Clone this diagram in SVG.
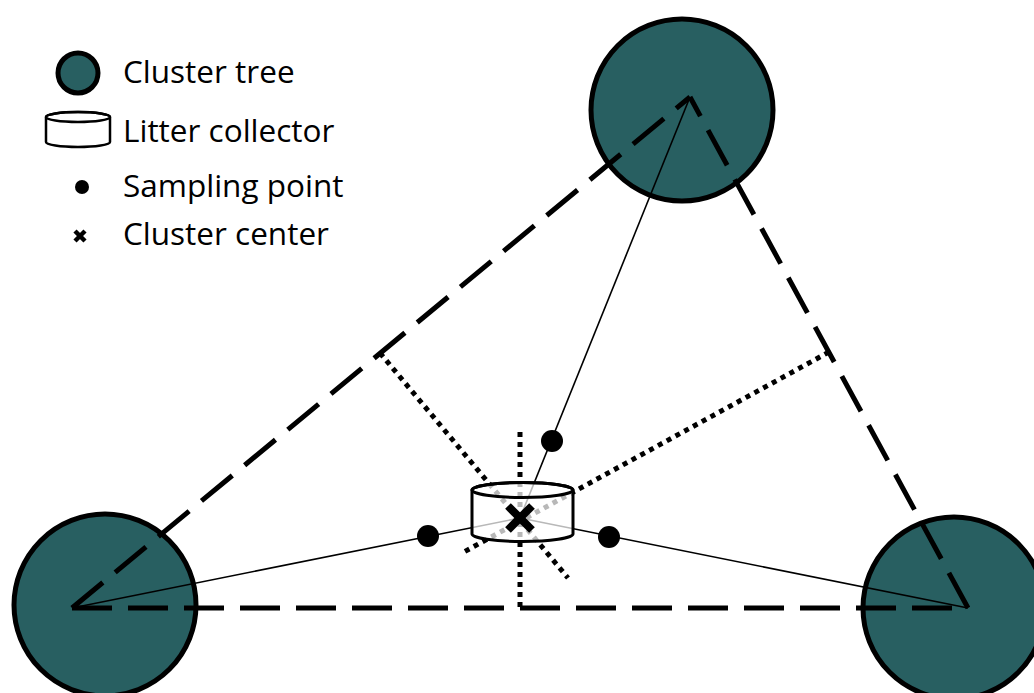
<svg xmlns="http://www.w3.org/2000/svg" width="1034" height="693" viewBox="0 0 1034 693">
<style>
.tree{fill:#285f61;stroke:#000;stroke-width:5}
.dash{stroke:#000;stroke-width:5;stroke-dasharray:40 16;fill:none}
.thin{stroke:#000;stroke-width:1.6;fill:none}
.dot{stroke:#000;stroke-width:5;stroke-dasharray:5 5;fill:none}
.pt{fill:#000}
.cyl{fill:#fff;fill-opacity:0.72;stroke:#000;stroke-width:3}
.x{stroke:#000;stroke-width:8;stroke-linecap:butt}
.lbl{font-family:"Open Sans","Noto Sans",sans-serif;font-size:31.5px;fill:#000}
</style>
<rect width="1034" height="693" fill="#fff"/>
<g id="tree-top"><circle class="tree" cx="682" cy="110" r="91"/></g>
<g id="tree-left"><circle class="tree" cx="105" cy="605" r="91"/></g>
<g id="tree-right"><circle class="tree" cx="954" cy="608" r="91"/></g>
<g id="connectors">
<line class="dash" x1="72" y1="608" x2="968" y2="608"/>
<line class="dash" x1="72" y1="608" x2="690" y2="97"/>
<line class="dash" x1="968" y1="608" x2="690" y2="97"/>
<line class="thin" x1="690" y1="97" x2="520" y2="518"/>
<line class="thin" x1="72" y1="608" x2="520" y2="518"/>
<line class="thin" x1="968" y1="608" x2="520" y2="518"/>
<line class="dot" x1="520" y1="432" x2="520" y2="608"/>
<line class="dot" x1="380" y1="353" x2="568" y2="578"/>
<line class="dot" x1="829" y1="352" x2="462" y2="553"/>
</g>
<g id="sampling-points">
<circle class="pt" cx="552" cy="441" r="11"/>
<circle class="pt" cx="428" cy="536" r="11"/>
<circle class="pt" cx="609" cy="537" r="11"/>
</g>
<g id="collector">
<path class="cyl" d="M472,490 L472,534 A50.5,7.5 0 0 0 573,534 L573,490 A50.5,7.5 0 0 0 472,490 Z"/>
<ellipse cx="522.5" cy="490" rx="50.5" ry="7.5" fill="none" stroke="#000" stroke-width="3"/>
</g>
<g id="center">
<line class="x" x1="508" y1="506" x2="532" y2="530"/>
<line class="x" x1="532" y1="506" x2="508" y2="530"/>
</g>
<g id="legend">
<circle class="tree" cx="78" cy="73" r="20"/>
<text class="lbl" x="123" y="83">Cluster tree</text>
<path class="cyl" style="fill-opacity:1;stroke-width:2.5" d="M46,117 L46,142 A32,5 0 0 0 110,142 L110,117 A32,5 0 0 0 46,117 Z"/>
<ellipse cx="78" cy="117" rx="32" ry="5" fill="none" stroke="#000" stroke-width="2.5"/>
<text class="lbl" x="123" y="142">Litter collector</text>
<circle class="pt" cx="82" cy="187" r="7"/>
<text class="lbl" x="123" y="197">Sampling point</text>
<line stroke="#000" stroke-width="4.5" x1="75" y1="231" x2="85" y2="241"/>
<line stroke="#000" stroke-width="4.5" x1="85" y1="231" x2="75" y2="241"/>
<text class="lbl" x="123" y="245">Cluster center</text>
</g>
</svg>
